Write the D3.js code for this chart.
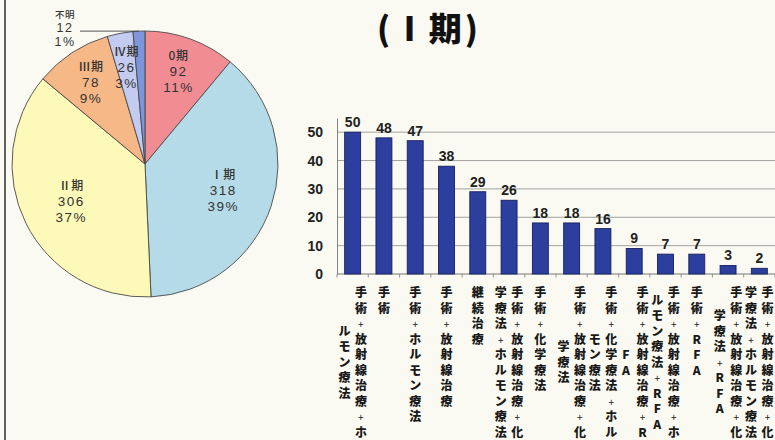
<!DOCTYPE html>
<html>
<head>
<meta charset="utf-8">
<script src="https://cdn.jsdelivr.net/npm/d3@7"></script>
<style>
  html, body { margin: 0; padding: 0; background: #fafaf2; }
  svg { display: block; }
</style>
</head>
<body>
<svg id="chart" width="775" height="440"></svg>
<script>
// Stage breakdown (pie)
const stageNames = ["0期", "Ⅰ期", "Ⅱ期", "Ⅲ期", "Ⅳ期", "不明"];
const stageCounts = [92, 318, 306, 78, 26, 12];
const stagePercents = ["11%", "39%", "37%", "9%", "3%", "1%"];
const stageColors = ["#f28c93", "#b6dbe8", "#fdf9b8", "#f6b887", "#c3cbf1", "#7d95da"];

// Treatment counts for stage I (bars)
const treatments = [
  "手術+放射線治療+ホルモン療法",
  "手術",
  "手術+ホルモン療法",
  "手術+放射線治療",
  "継続治療",
  "手術+放射線治療+化学療法+ホルモン療法",
  "手術+化学療法",
  "手術+放射線治療+化学療法",
  "手術+化学療法+ホルモン療法",
  "手術+放射線治療+RFA",
  "手術+放射線治療+ホルモン療法+RFA",
  "手術+RFA",
  "手術+放射線治療+化学療法+RFA",
  "手術+放射線治療+化学療法+ホルモン療法"
];
const treatmentCounts = [50, 48, 47, 38, 29, 26, 18, 18, 16, 9, 7, 7, 3, 2];
const yTicks = [0, 10, 20, 30, 40, 50];

const svg = d3.select("#chart");
const jp = "'Noto Sans CJK JP', 'Noto Sans', sans-serif";
const latin = "'Liberation Sans', Arial, sans-serif";

// frame line on the left edge
svg.append("line")
  .attr("x1", 5).attr("x2", 5).attr("y1", 0).attr("y2", 440)
  .attr("stroke", "#3a3a3a").attr("stroke-width", 1.6);

// title
svg.append("text")
  .attr("x", 429).attr("y", 41)
  .attr("text-anchor", "middle")
  .attr("font-family", jp).attr("font-weight", 900)
  .attr("font-size", 33).attr("fill", "#111")
  .attr("letter-spacing", 3)
  .text("( I 期)");

// ---------- pie ----------
const cx = 145, cy = 164, R = 133;
const pieData = d3.pie().sort(null).value(d => d.count)(
  stageNames.map((n, i) => ({ name: n, count: stageCounts[i], pct: stagePercents[i], color: stageColors[i] }))
);
const arc = d3.arc().innerRadius(0).outerRadius(R);
const gPie = svg.append("g").attr("transform", `translate(${cx},${cy})`);

gPie.selectAll("path.slice")
  .data(pieData)
  .join("path")
  .attr("class", "slice")
  .attr("d", arc)
  .attr("fill", d => d.data.color)
  .attr("stroke", "#4a4a4a")
  .attr("stroke-width", 0.9);

// one three-line label: stage name, count, share
function stageLabel(lx, ly, d, sizes, pitch) {
  const lines = [d.data.name, d.data.count, d.data.pct];
  lines.forEach((s, k) => {
    gPie.append("text")
      .attr("x", lx).attr("y", ly + k * pitch)
      .attr("text-anchor", "middle")
      .attr("font-family", k === 0 ? jp : latin)
      .attr("font-weight", k === 0 ? 500 : 400)
      .attr("font-size", sizes[k]).attr("fill", "#333")
      .attr("letter-spacing", k === 0 ? 0.5 : 1.5)
      .text(s);
  });
}

// large slices keep their labels closer to the centre
const labelArc = r => d3.arc().innerRadius(r).outerRadius(r);
pieData.filter(d => d.data.name !== "不明").forEach(d => {
  const r = d.data.count > 200 ? R * 0.62 : R * 0.74;
  const [lx, ly] = labelArc(r).centroid(d);
  stageLabel(lx, ly - 11, d, [12, 13.5, 13.5], 16);
});

// the smallest slice is labelled outside with a leader line
const small = pieData.find(d => d.data.name === "不明");
const midA = (small.startAngle + small.endAngle) / 2;
const edgeX = R * Math.sin(midA), edgeY = -R * Math.cos(midA);
gPie.append("line")
  .attr("x1", edgeX).attr("y1", edgeY)
  .attr("x2", 80 - cx).attr("y2", edgeY)
  .attr("stroke", "#444").attr("stroke-width", 0.9);
stageLabel(65 - cx, edgeY - 13, small, [9.5, 12.5, 12.5], 14);

// ---------- bars ----------
const x0 = 337, x1 = 775, yBase = 274, yTop = 118;
const x = d3.scaleBand()
  .domain(d3.range(treatments.length))
  .range([x0, x1])
  .paddingInner(0.49)
  .paddingOuter(0.245);
const y = d3.scaleLinear().domain([0, 55]).range([yBase, yTop]);

// gridlines
svg.append("g").selectAll("line")
  .data(yTicks.filter(v => v > 0))
  .join("line")
  .attr("x1", x0).attr("x2", x1)
  .attr("y1", d => y(d)).attr("y2", d => y(d))
  .attr("stroke", "#8c8c8c").attr("stroke-width", 0.8);

// y axis
const yAxis = svg.append("g")
  .attr("transform", `translate(${x0},0)`)
  .call(d3.axisLeft(y).tickValues(yTicks).tickSize(0).tickPadding(14));
yAxis.select(".domain").attr("stroke", "#777").attr("stroke-width", 0.9);
yAxis.selectAll("text")
  .attr("font-family", latin).attr("font-weight", "bold")
  .attr("font-size", 14).attr("fill", "#222");

// x axis line with tick marks between categories
const step = x.step();
svg.append("line")
  .attr("x1", x0).attr("x2", x1).attr("y1", yBase).attr("y2", yBase)
  .attr("stroke", "#777").attr("stroke-width", 1);
svg.append("g").selectAll("line")
  .data(d3.range(treatments.length + 1))
  .join("line")
  .attr("x1", i => x0 + i * step).attr("x2", i => x0 + i * step)
  .attr("y1", yBase).attr("y2", yBase + 3.5)
  .attr("stroke", "#888").attr("stroke-width", 0.9);

// bars
const bars = treatmentCounts.map((v, i) => ({ i, v }));
svg.append("g").selectAll("rect")
  .data(bars)
  .join("rect")
  .attr("x", d => x(d.i))
  .attr("width", x.bandwidth())
  .attr("y", d => y(d.v))
  .attr("height", d => yBase - y(d.v))
  .attr("fill", "#2c3f9f")
  .attr("stroke", "#17205e")
  .attr("stroke-width", 0.9);

// value labels
svg.append("g").selectAll("text")
  .data(bars)
  .join("text")
  .attr("x", d => x(d.i) + x.bandwidth() / 2)
  .attr("y", d => y(d.v) - 5)
  .attr("text-anchor", "middle")
  .attr("font-family", latin).attr("font-weight", "bold")
  .attr("font-size", 14).attr("fill", "#222")
  .text(d => d.v);

// category labels: stacked vertical text, 10 characters per column,
// columns run right to left and are centred on each other
const perCol = 10, colGap = 16.5, rowGap = 15.5, firstRow = 297;
const gLab = svg.append("g")
  .attr("font-family", jp).attr("fill", "#1a1a1a")
  .attr("text-anchor", "middle");
treatments.forEach((label, i) => {
  const chars = Array.from(label);
  const cols = [];
  for (let k = 0; k < chars.length; k += perCol) cols.push(chars.slice(k, k + perCol));
  const longest = d3.max(cols, c => c.length);
  const cxBar = x(i) + x.bandwidth() / 2;
  cols.forEach((col, c) => {
    const colX = cxBar + ((cols.length - 1) / 2 - c) * colGap;
    const offset = (longest - col.length) / 2;
    col.forEach((ch, r) => {
      gLab.append("text")
        .attr("x", colX)
        .attr("y", firstRow + (offset + r) * rowGap)
        .attr("font-size", ch === "+" ? 10 : 12)
        .attr("font-weight", ch === "+" ? 400 : 900)
        .text(ch);
    });
  });
});
</script>
</body>
</html>
